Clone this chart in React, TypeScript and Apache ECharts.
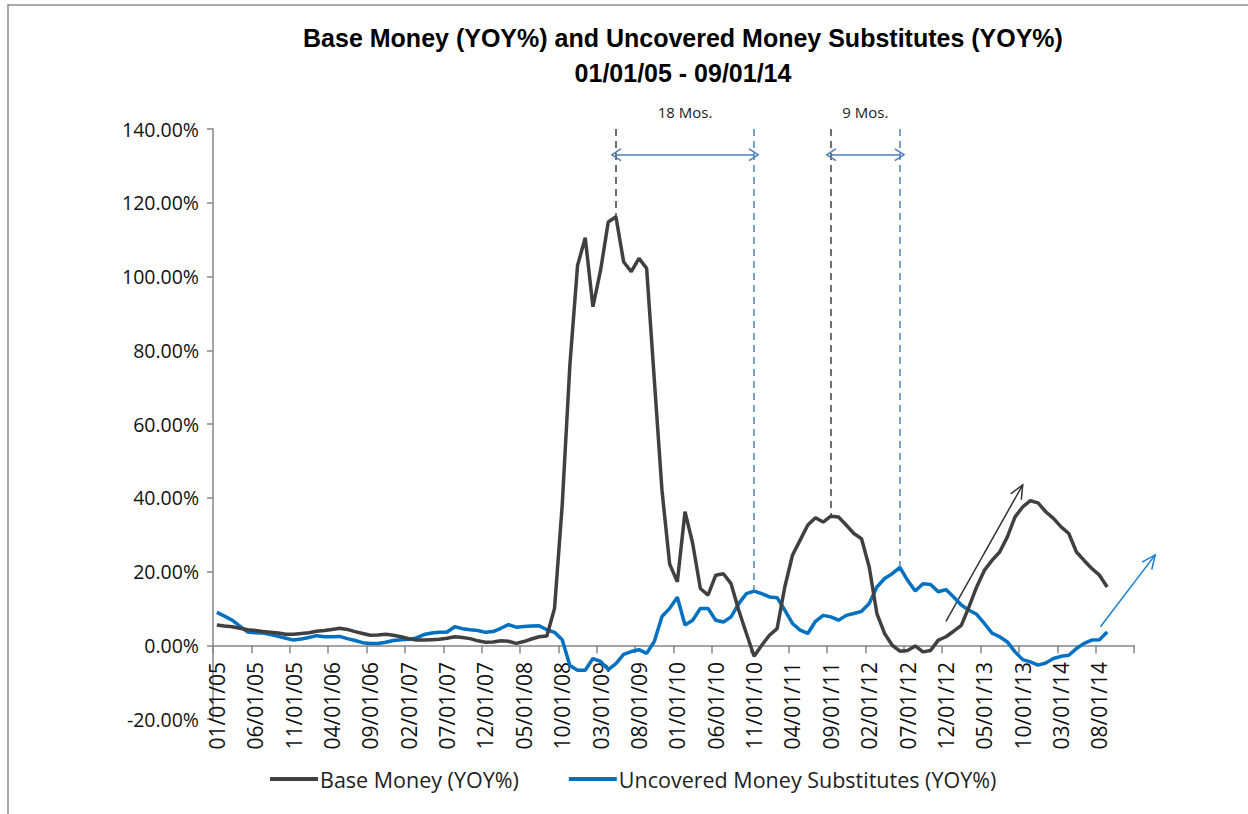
import React, { useEffect, useRef } from "react";
import * as echarts from "echarts";

// Monthly categories 01/01/05 .. 12/01/14 (axis runs to a full 5-month tick)
const categories: string[] = (() => {
  const out: string[] = [];
  for (let y = 5; y <= 14; y++) {
    for (let m = 1; m <= 12; m++) {
      out.push(`${String(m).padStart(2, "0")}/01/${String(y).padStart(2, "0")}`);
    }
  }
  return out;
})();

const baseMoney: number[] = [
  5.5, 5.2, 5.0, 4.6, 4.2, 4.0, 3.7, 3.5, 3.3, 3.0, 3.0, 3.2,
  3.4, 3.8, 4.0, 4.3, 4.6, 4.3, 3.7, 3.2, 2.7, 2.8, 3.0, 2.7,
  2.3, 1.8, 1.4, 1.4, 1.5, 1.6, 1.9, 2.3, 2.1, 1.8, 1.2, 0.8,
  0.9, 1.2, 1.1, 0.5, 1.0, 1.7, 2.3, 2.5, 10.0, 38.0, 76.0, 103.0,
  110.5, 91.8, 101.7, 114.8, 116.2, 104.0, 101.3, 104.9, 102.2, 72.0, 42.0, 22.0,
  17.2, 36.2, 27.6, 15.4, 13.6, 19.0, 19.4, 16.7, 9.5, 3.2, -3.0, 0.0,
  2.7, 4.5, 15.8, 24.4, 28.5, 32.6, 34.6, 33.4, 35.0, 34.8, 32.6, 30.3,
  28.9, 21.2, 8.6, 3.2, 0.0, -1.6, -1.4, -0.2, -1.8, -1.4, 1.4, 2.3,
  3.8, 5.4, 10.4, 15.8, 20.3, 23.0, 25.3, 29.4, 34.8, 37.5, 39.2, 38.6,
  36.2, 34.4, 32.1, 30.3, 25.3, 23.0, 20.8, 19.0, 15.8,
];

const uncovered: number[] = [
  8.9, 7.9, 6.8, 5.2, 3.6, 3.4, 3.3, 2.9, 2.4, 1.9, 1.4, 1.7,
  2.1, 2.6, 2.3, 2.3, 2.4, 1.8, 1.3, 0.7, 0.5, 0.5, 0.8, 1.3,
  1.5, 1.6, 2.0, 2.9, 3.3, 3.5, 3.6, 5.0, 4.5, 4.2, 4.0, 3.5,
  3.7, 4.6, 5.6, 4.9, 5.1, 5.2, 5.3, 4.2, 3.5, 1.5, -5.5, -6.8,
  -6.8, -3.6, -4.4, -6.6, -5.0, -2.5, -1.7, -1.2, -2.2, 1.0, 7.8, 10.0,
  13.0, 5.5, 6.8, 10.0, 10.0, 6.8, 6.3, 7.7, 11.3, 14.0, 14.7, 14.0,
  13.1, 12.9, 9.5, 5.9, 4.1, 3.2, 6.5, 8.1, 7.7, 6.8, 8.1, 8.6,
  9.2, 11.3, 15.8, 18.1, 19.4, 21.1, 17.6, 14.7, 16.7, 16.5, 14.5, 15.1,
  13.1, 10.9, 9.5, 8.4, 5.9, 3.3, 2.3, 0.9, -1.8, -3.9, -4.5, -5.4,
  -4.8, -3.6, -3.0, -2.7, -0.9, 0.5, 1.4, 1.5, 3.6,
];

const seriesNames = ["Base Money (YOY%)", "Uncovered Money Substitutes (YOY%)"];
const titleText = "Base Money (YOY%) and Uncovered Money Substitutes (YOY%)\n01/01/05 - 09/01/14";

// Lead/lag annotations: [base-money peak index, substitutes peak index, label]
const leadLags: [number, number, string][] = [
  [52, 70, "18 Mos."],
  [80, 89, "9 Mos."],
];

const BLACK = "#404040";
const BLUE = "#0070c0";
const ARROW_BLUE = "#4f81bd";
const AXIS_GRAY = "#868686";
const FONT = "'Open Sans', 'Noto Sans', sans-serif";

const chevron = "path://M0,9.4 L6,0 L12,9.4 L10.9,10.2 L6,2.6 L1.1,10.2 Z";

function arrow(x1: number, y1: number, x2: number, y2: number, color: string) {
  const a = Math.atan2(y2 - y1, x2 - x1);
  const L = 15;
  const spread = 0.42;
  const p1 = [x2 + L * Math.cos(a + Math.PI - spread), y2 + L * Math.sin(a + Math.PI - spread)];
  const p2 = [x2 + L * Math.cos(a + Math.PI + spread), y2 + L * Math.sin(a + Math.PI + spread)];
  return {
    type: "group",
    silent: true,
    children: [
      { type: "line", shape: { x1, y1, x2, y2 }, style: { stroke: color, lineWidth: 1.5 } },
      { type: "polyline", shape: { points: [p1, [x2, y2], p2] }, style: { stroke: color, lineWidth: 1.5, fill: null } },
    ],
  };
}

export default function App() {
  const ref = useRef<HTMLDivElement>(null);

  useEffect(() => {
    const chart = echarts.init(ref.current!, null, { renderer: "svg" });

    const blackMarks: any[] = [];
    const blueMarks: any[] = [];
    leadLags.forEach(([bi, ui]) => {
      blackMarks.push([
        { coord: [bi, 140], symbol: "none" },
        { coord: [bi, baseMoney[bi]], symbol: "none" },
      ]);
      blueMarks.push([
        { coord: [ui, 140], symbol: "none" },
        { coord: [ui, uncovered[ui]], symbol: "none" },
      ]);
      blueMarks.push([
        { coord: [bi, 133], symbol: chevron, lineStyle: { type: "solid", color: ARROW_BLUE, width: 1.5 } },
        { coord: [ui, 133], symbol: chevron, lineStyle: { type: "solid", color: ARROW_BLUE, width: 1.5 } },
      ]);
    });

    const option: any = {
      animation: false,
      backgroundColor: "#ffffff",
      title: {
        text: titleText,
        left: 678,
        top: 15,
        textAlign: "center",
        textStyle: {
          fontFamily: "'Liberation Sans Narrow', 'Liberation Sans', sans-serif",
          fontWeight: "bold",
          fontSize: 25,
          lineHeight: 35,
          color: "#000",
        },
      },
      legend: {
        left: 270,
        top: 768,
        padding: 0,
        itemWidth: 48,
        itemHeight: 4,
        itemGap: 50,
        icon: "rect",
        textStyle: { fontFamily: FONT, fontSize: 21.5, color: "#222", padding: [0, 0, 0, -3] },
        data: seriesNames,
      },
      grid: { left: 213, right: 114, top: 129, bottom: 95, containLabel: false },
      xAxis: {
        type: "category",
        data: categories,
        boundaryGap: true,
        axisLine: { onZero: true, lineStyle: { color: AXIS_GRAY, width: 1.5 } },
        axisTick: { show: true, interval: 4, length: 8, alignWithLabel: false, lineStyle: { color: AXIS_GRAY, width: 1.5 } },
        axisLabel: {
          interval: 4,
          rotate: 90,
          margin: -57,
          fontFamily: FONT,
          fontSize: 21,
          color: "#111",
        },
        splitLine: { show: false },
      },
      yAxis: {
        type: "value",
        min: -20,
        max: 140,
        interval: 20,
        axisLine: { show: true, lineStyle: { color: AXIS_GRAY, width: 1.5 } },
        axisTick: { show: true, length: 6, lineStyle: { color: AXIS_GRAY, width: 1.5 } },
        axisLabel: {
          formatter: (v: number) => `${v.toFixed(2)}%`,
          margin: 14,
          fontFamily: FONT,
          fontSize: 19.5,
          color: "#111",
        },
        splitLine: { show: false },
      },
      series: [
        {
          name: seriesNames[0],
          type: "line",
          data: baseMoney,
          showSymbol: false,
          symbol: "none",
          lineStyle: { color: BLACK, width: 3.5 },
          itemStyle: { color: BLACK },
          z: 3,
          markLine: {
            silent: true,
            symbol: ["none", "none"],
            label: { show: false },
            lineStyle: { color: BLACK, type: [7, 5], width: 1.5 },
            data: blackMarks,
          },
        },
        {
          name: seriesNames[1],
          type: "line",
          data: uncovered,
          showSymbol: false,
          symbol: "none",
          lineStyle: { color: BLUE, width: 3.5 },
          itemStyle: { color: BLUE },
          z: 2,
          markLine: {
            silent: true,
            symbol: ["none", "none"],
            symbolSize: [13, 11],
            label: { show: false },
            lineStyle: { color: ARROW_BLUE, type: [7, 5], width: 1.5 },
            data: blueMarks,
          },
        },
      ],
    };

    chart.setOption(option);

    // annotation texts and trend arrows placed through the chart's own scales
    const px = (i: number, v: number) => chart.convertToPixel({ gridIndex: 0 }, [i, v]) as number[];
    const graphics: any[] = [
      {
        type: "rect",
        shape: { x: 8, y: 5, width: 1260, height: 830 },
        style: { fill: null, stroke: "#8c8c8c", lineWidth: 1.5 },
        silent: true,
      },
    ];
    leadLags.forEach(([bi, ui, label]) => {
      const a = px(bi, 140);
      const b = px(ui, 140);
      graphics.push({
        type: "text",
        x: (a[0] + b[0]) / 2,
        y: 112,
        style: { text: label, fontFamily: FONT, fontSize: 15, fill: "#222", align: "center", verticalAlign: "middle" },
        silent: true,
      });
    });
    const bs = px(95, 6.5), be = px(105, 43.5);
    graphics.push(arrow(bs[0], bs[1], be[0], be[1], "#333333"));
    const us = px(115, 5), ue = px(122, 24.5);
    graphics.push(arrow(us[0] + 1, us[1], ue[0] + 2, ue[1], "#1a7fd0"));
    chart.setOption({ graphic: graphics });

    return () => chart.dispose();
  }, []);

  return (
    <div
      ref={ref}
      style={{ position: "absolute", left: 0, top: 0, width: 1248, height: 814 }}
    />
  );
}
